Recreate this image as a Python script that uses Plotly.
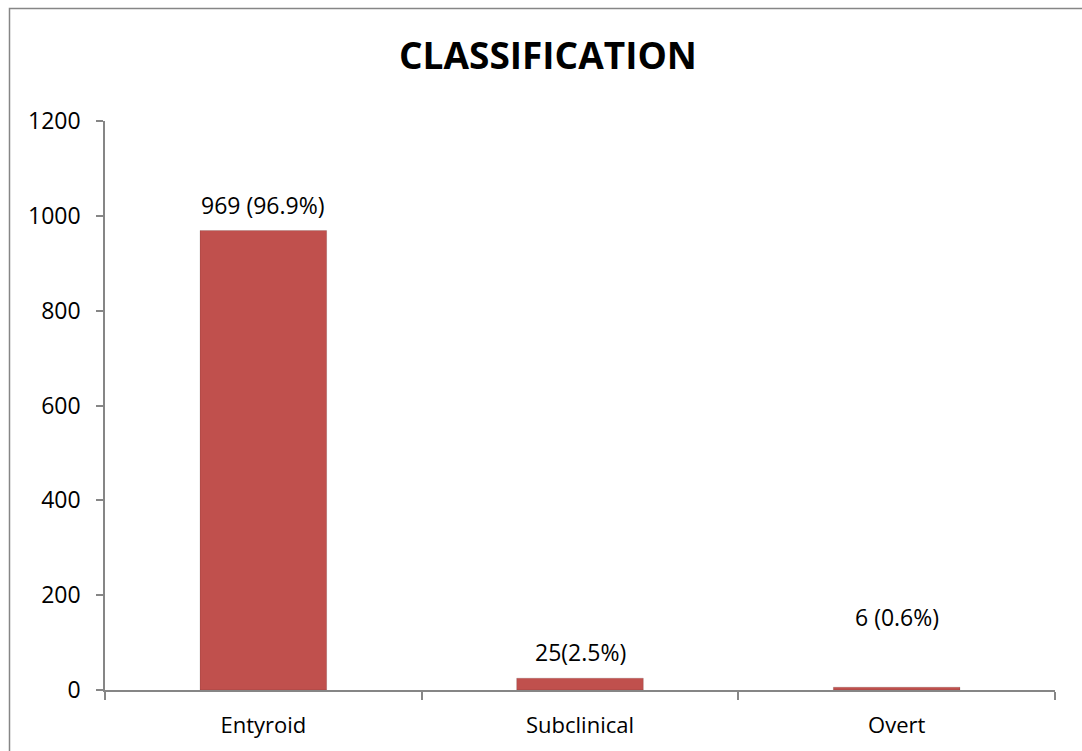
import plotly.graph_objects as go

categories = ["Entyroid", "Subclinical", "Overt"]
counts = [969, 25, 6]
labels = ["969 (96.9%)", "25(2.5%)", "6 (0.6%)"]
label_offsets = [26, 26, 70]  # pixels above the top of each bar

W, H = 1082, 751
L, R, T, B = 105, 27, 121, 61
pw, ph = W - L - R, H - T - B

FONT = "Open Sans"
AXIS_GRAY = "#868686"
BAR_RED = "#C0504D"

fig = go.Figure()
fig.add_trace(go.Bar(
    x=categories,
    y=counts,
    marker=dict(color=BAR_RED, line=dict(color="rgba(0,0,0,0.12)", width=1)),
    width=0.4,
    hoverinfo="x+y",
))

for cat, val, txt, off in zip(categories, counts, labels, label_offsets):
    fig.add_annotation(
        x=cat, y=val, text=txt, showarrow=False,
        yanchor="middle", yshift=off,
        font=dict(family=FONT, size=23, color="#000000"),
    )

# outer chart frame (left and top edges visible)
def px_to_paper_x(px):
    return (px - L) / pw

def px_to_paper_y(py):
    return 1 - (py - T) / ph

fig.add_shape(
    type="rect", xref="paper", yref="paper",
    x0=px_to_paper_x(9.5), x1=px_to_paper_x(W + 20),
    y0=px_to_paper_y(H + 20), y1=px_to_paper_y(8.5),
    line=dict(color=AXIS_GRAY, width=1.5), fillcolor="rgba(0,0,0,0)",
    layer="below",
)

fig.update_layout(
    width=W, height=H,
    margin=dict(l=L, r=R, t=T, b=B, pad=0),
    paper_bgcolor="white", plot_bgcolor="white",
    showlegend=False,
    title=dict(
        text="<b>CLASSIFICATION</b>",
        x=px_to_paper_x(548), xref="paper", xanchor="center",
        y=1 - 56 / H, yref="container", yanchor="middle",
        font=dict(family=FONT, size=37, color="#000000"),
    ),
    font=dict(family=FONT, size=22, color="#000000"),
)

fig.update_yaxes(
    range=[0, 1200], tickmode="array",
    tickvals=[0, 200, 400, 600, 800, 1000, 1200],
    showgrid=False, zeroline=False,
    showline=True, linecolor=AXIS_GRAY, linewidth=1.5,
    ticks="outside", ticklen=7, tickcolor=AXIS_GRAY, tickwidth=1.5,
    ticklabelstandoff=11,
    tickfont=dict(family=FONT, size=23, color="#000000"),
)
fig.update_xaxes(
    showgrid=False, zeroline=False,
    showline=True, linecolor=AXIS_GRAY, linewidth=1.5,
    ticks="outside", tickson="boundaries", ticklen=8,
    tickcolor=AXIS_GRAY, tickwidth=1.5,
    ticklabelstandoff=15,
    tickfont=dict(family=FONT, size=22, color="#000000"),
)

fig.write_html("out.html")
